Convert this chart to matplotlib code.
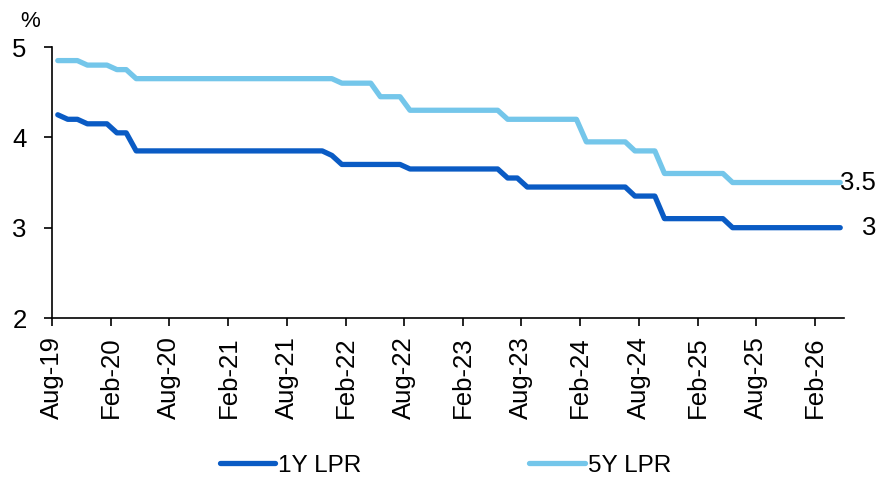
import matplotlib
matplotlib.use("Agg")
import matplotlib.pyplot as plt
import matplotlib.dates as mdates
import pandas as pd

plt.rcParams['font.family'] = ['Liberation Sans', 'DejaVu Sans']

# monthly fixings (20th of each month), Aug-2019 .. Apr-2026
dates = pd.date_range("2019-08-01", periods=81, freq="MS") + pd.Timedelta(days=19)

lpr_1y = (
    [4.25, 4.20, 4.20, 4.15, 4.15]
    + [4.15, 4.05, 4.05, 3.85, 3.85, 3.85, 3.85, 3.85, 3.85, 3.85, 3.85, 3.85]
    + [3.85, 3.85, 3.85, 3.85, 3.85, 3.85, 3.85, 3.85, 3.85, 3.85, 3.85, 3.80]
    + [3.70, 3.70, 3.70, 3.70, 3.70, 3.70, 3.70, 3.65, 3.65, 3.65, 3.65, 3.65]
    + [3.65, 3.65, 3.65, 3.65, 3.65, 3.55, 3.55, 3.45, 3.45, 3.45, 3.45, 3.45]
    + [3.45, 3.45, 3.45, 3.45, 3.45, 3.45, 3.35, 3.35, 3.35, 3.10, 3.10, 3.10]
    + [3.10, 3.10, 3.10, 3.10, 3.00, 3.00, 3.00, 3.00, 3.00, 3.00, 3.00, 3.00]
    + [3.00, 3.00, 3.00, 3.00]
)
lpr_5y = (
    [4.85, 4.85, 4.85, 4.80, 4.80]
    + [4.80, 4.75, 4.75, 4.65, 4.65, 4.65, 4.65, 4.65, 4.65, 4.65, 4.65, 4.65]
    + [4.65, 4.65, 4.65, 4.65, 4.65, 4.65, 4.65, 4.65, 4.65, 4.65, 4.65, 4.65]
    + [4.60, 4.60, 4.60, 4.60, 4.45, 4.45, 4.45, 4.30, 4.30, 4.30, 4.30, 4.30]
    + [4.30, 4.30, 4.30, 4.30, 4.30, 4.20, 4.20, 4.20, 4.20, 4.20, 4.20, 4.20]
    + [4.20, 3.95, 3.95, 3.95, 3.95, 3.95, 3.85, 3.85, 3.85, 3.60, 3.60, 3.60]
    + [3.60, 3.60, 3.60, 3.60, 3.50, 3.50, 3.50, 3.50, 3.50, 3.50, 3.50, 3.50]
    + [3.50, 3.50, 3.50, 3.50]
)

c1 = '#0a5bc4'
c5 = '#74c6ea'

fig = plt.figure(figsize=(8.91, 4.80), dpi=100)
ax = fig.add_axes([0.058, 0.3375, 0.889, 0.5645])

ax.plot(dates, lpr_1y, color=c1, lw=3.8, solid_capstyle='round', label='1Y LPR')
ax.plot(dates, lpr_5y, color=c5, lw=3.8, solid_capstyle='round', label='5Y LPR')

ax.set_xlim(pd.Timestamp("2019-08-01"), pd.Timestamp("2026-05-01"))
ax.set_ylim(2, 5)
ax.set_yticks([2, 3, 4, 5])
ax.xaxis.set_major_locator(mdates.MonthLocator(bymonth=[2, 8]))
ax.xaxis.set_major_formatter(mdates.DateFormatter('%b-%y'))
plt.setp(ax.get_xticklabels(), rotation=90)

for s in ['top', 'right']:
    ax.spines[s].set_visible(False)
for s in ['left', 'bottom']:
    ax.spines[s].set_linewidth(1.2)
ax.tick_params(axis='y', length=6, width=1.2, pad=12, labelsize=18.5)
ax.tick_params(axis='x', length=6, width=1.2, pad=7, labelsize=18.5)

# end-of-series values
ax.annotate(f'{lpr_5y[-1]:g}', (dates[-1], lpr_5y[-1]), xytext=(26, 0),
            textcoords='offset points', ha='right', va='center', fontsize=18.5,
            annotation_clip=False)
ax.annotate(f'{lpr_1y[-1]:g}', (dates[-1], lpr_1y[-1]), xytext=(26, 0),
            textcoords='offset points', ha='right', va='center', fontsize=18.5,
            annotation_clip=False)

fig.text(0.034, 0.955, '%', ha='center', va='center', fontsize=16)

fig.legend(loc='center', bbox_to_anchor=(0.5, 0.03), ncol=2, frameon=False,
           fontsize=17.5, handlelength=2.3, handletextpad=0.12, columnspacing=6.9)

fig.savefig('out.png', dpi=100)
